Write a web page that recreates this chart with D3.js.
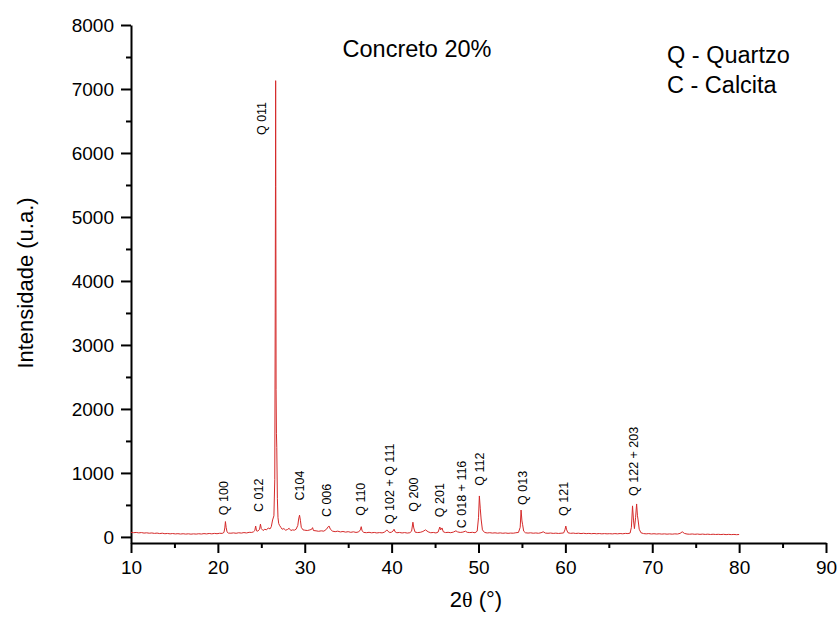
<!DOCTYPE html>
<html>
<head>
<meta charset="utf-8">
<script src="https://cdn.jsdelivr.net/npm/d3@7"></script>
<style>
  body { margin: 0; background: #fff; }
  text { font-family: "Liberation Sans", Arial, sans-serif; fill: #000; }
</style>
</head>
<body>
<svg id="xrd-chart" width="839" height="621"></svg>
<script>
// 2-theta (deg) / intensity (a.u.)
const pattern = [
  [10.0,72],[10.3,66],[10.6,70],[10.9,63],[11.2,68],[11.5,60],[11.8,64],[12.1,58],[12.4,62],[12.7,55],
  [13.0,60],[13.3,52],[13.6,58],[13.9,50],[14.2,54],[14.5,48],[14.8,53],[15.1,47],[15.4,51],[15.7,45],
  [16.0,50],[16.3,44],[16.6,49],[16.9,43],[17.2,48],[17.5,44],[17.8,50],[18.1,45],[18.4,52],[18.7,47],
  [19.0,54],[19.3,48],[19.6,55],[19.9,50],[20.2,57],[20.5,55],[20.7,70],[20.8,140],[20.87,240],[20.95,150],
  [21.05,80],[21.2,60],[21.5,58],[21.8,63],[22.1,57],[22.4,65],[22.7,60],[23.0,68],[23.3,62],[23.6,72],
  [23.9,70],[24.1,80],[24.25,100],[24.35,170],[24.45,95],[24.6,90],[24.8,120],[24.9,200],[25.0,130],[25.2,100],
  [25.4,120],[25.6,110],[25.8,140],[26.0,125],[26.15,160],[26.3,265],[26.45,330],[26.55,900],[26.6,3500],[26.63,5480],
  [26.65,7130],[26.67,5480],[26.7,2300],[26.74,1620],[26.78,1400],[26.85,600],[26.92,300],[27.0,210],[27.1,180],[27.25,150],
  [27.4,120],[27.6,130],[27.8,105],[28.0,115],[28.2,135],[28.4,100],[28.6,110],[28.8,105],[29.0,120],[29.2,180],
  [29.3,280],[29.4,340],[29.5,260],[29.6,150],[29.8,110],[30.0,105],[30.3,100],[30.6,110],[30.8,120],[30.9,145],
  [31.0,100],[31.3,95],[31.6,88],[31.9,95],[32.2,90],[32.5,120],[32.7,160],[32.8,170],[32.95,120],[33.2,90],
  [33.5,82],[33.8,90],[34.1,78],[34.4,85],[34.7,75],[35.0,82],[35.3,72],[35.6,80],[35.9,70],[36.2,78],
  [36.4,110],[36.5,160],[36.6,95],[36.8,70],[37.1,66],[37.4,72],[37.7,64],[38.0,70],[38.3,62],[38.6,68],
  [38.9,63],[39.2,75],[39.45,110],[39.6,85],[39.8,68],[40.0,75],[40.15,90],[40.28,120],[40.4,80],[40.6,65],
  [40.9,70],[41.2,62],[41.5,68],[41.8,60],[42.1,66],[42.3,90],[42.45,230],[42.55,140],[42.7,75],[43.0,68],
  [43.3,72],[43.6,85],[43.9,110],[44.2,80],[44.5,65],[44.8,70],[45.1,62],[45.35,75],[45.55,155],[45.65,110],
  [45.8,140],[45.95,80],[46.2,68],[46.5,72],[46.8,66],[47.1,75],[47.4,95],[47.6,78],[47.9,70],[48.2,75],
  [48.5,90],[48.7,72],[49.0,68],[49.3,72],[49.6,65],[49.85,90],[50.0,300],[50.1,640],[50.2,450],[50.3,280],
  [50.45,110],[50.7,70],[51.0,62],[51.3,66],[51.6,60],[51.9,64],[52.2,58],[52.5,63],[52.8,57],[53.1,62],
  [53.4,56],[53.7,60],[54.0,58],[54.3,65],[54.6,70],[54.8,150],[54.9,420],[55.0,250],[55.08,190],[55.2,90],
  [55.4,65],[55.7,60],[56.0,64],[56.3,58],[56.6,62],[56.9,57],[57.2,65],[57.45,80],[57.7,60],[58.0,57],
  [58.3,61],[58.6,55],[58.9,59],[59.2,54],[59.5,58],[59.8,62],[59.95,110],[60.05,170],[60.15,110],[60.3,65],
  [60.6,56],[60.9,60],[61.2,54],[61.5,58],[61.8,52],[62.1,57],[62.4,51],[62.7,55],[63.0,50],[63.3,54],
  [63.6,49],[63.9,53],[64.2,48],[64.5,52],[64.8,48],[65.1,51],[65.4,47],[65.7,52],[66.0,48],[66.3,53],
  [66.6,49],[66.9,55],[67.2,52],[67.45,60],[67.6,150],[67.73,485],[67.85,250],[67.95,130],[68.08,300],[68.2,515],
  [68.3,330],[68.37,265],[68.5,120],[68.7,65],[69.0,52],[69.3,48],[69.6,52],[69.9,46],[70.2,50],[70.5,45],
  [70.8,49],[71.1,44],[71.4,48],[71.7,43],[72.0,47],[72.3,43],[72.6,48],[72.9,45],[73.2,55],[73.45,80],
  [73.7,55],[74.0,45],[74.3,42],[74.6,46],[74.9,41],[75.2,45],[75.5,40],[75.8,44],[76.1,39],[76.4,43],
  [76.7,38],[77.0,42],[77.3,38],[77.6,41],[77.9,37],[78.2,41],[78.5,36],[78.8,40],[79.1,36],[79.4,39],
  [79.7,35],[80.0,38]
];

// peak labels: text, 2-theta where it sits, intensity where the text starts
const peakNames = ['Q 100', 'C 012', 'Q 011', 'C104', 'C 006', 'Q 110', 'Q 102 + Q 111',
  'Q 200', 'Q 201', 'C 018 + 116', 'Q 112', 'Q 013', 'Q 121', 'Q 122 + 203'];
const peakPos = [20.7, 24.65, 25.08, 29.45, 32.53, 36.44, 39.81, 42.49, 45.57, 48.07, 50.17, 55.09, 59.76, 67.82];
const peakLabelY = [340, 390, 6280, 570, 310, 330, 200, 395, 308, 136, 800, 500, 328, 640];

const xTicks = [10, 20, 30, 40, 50, 60, 70, 80, 90];
const yTicks = [0, 1000, 2000, 3000, 4000, 5000, 6000, 7000, 8000];
const legendLines = ['Q - Quartzo', 'C - Calcita'];
const chartTitle = 'Concreto 20%';

const svg = d3.select('#xrd-chart');

const xScale = d3.scaleLinear().domain([10, 90]).range([131, 826]);
const yScale = d3.scaleLinear().domain([-95, 8000]).range([543, 25]);

// minor ticks halfway between the major ones
const xMinor = d3.range(15, 90, 10);
const yMinor = d3.range(500, 8000, 1000);

function styleAxis(g) {
    g.select('.domain').attr('stroke', '#000').attr('stroke-width', 2);
    g.selectAll('.tick line').attr('stroke', '#000').attr('stroke-width', 2);
    g.selectAll('.tick text').style('font-size', '19px').attr('fill', '#000');
}

// x axis
svg.append('g')
    .attr('transform', `translate(0, ${yScale(-95)})`)
    .call(d3.axisBottom(xScale).tickValues(xMinor).tickSize(5).tickFormat('').tickSizeOuter(0))
    .call(g => g.select('.domain').remove())
    .call(styleAxis);

svg.append('g')
    .attr('transform', `translate(0, ${yScale(-95)})`)
    .call(d3.axisBottom(xScale).tickValues(xTicks).tickSize(10).tickPadding(8)
        .tickFormat(d3.format('d')).tickSizeOuter(0))
    .call(styleAxis);

// y axis
svg.append('g')
    .attr('transform', `translate(${xScale(10)}, 0)`)
    .call(d3.axisLeft(yScale).tickValues(yMinor).tickSize(5).tickFormat('').tickSizeOuter(0))
    .call(g => g.select('.domain').remove())
    .call(styleAxis);

svg.append('g')
    .attr('transform', `translate(${xScale(10)}, 0)`)
    .call(d3.axisLeft(yScale).tickValues(yTicks).tickSize(10).tickPadding(7)
        .tickFormat(d3.format('d')).tickSizeOuter(0))
    .call(styleAxis);

// axis titles
svg.append('text')
    .attr('text-anchor', 'middle')
    .attr('transform', `translate(33, 283) rotate(-90)`)
    .style('font-size', '22px')
    .text('Intensidade (u.a.)');

const xLabel = svg.append('text')
    .attr('text-anchor', 'middle')
    .attr('x', 476)
    .attr('y', 607)
    .style('font-size', '22px');
xLabel.append('tspan').text('2');
xLabel.append('tspan').style('font-family', '"Liberation Serif", serif').text('\u03b8');
xLabel.append('tspan').text(' (\u00b0)');

// diffractogram
const line = d3.line()
    .x(d => xScale(d[0]))
    .y(d => yScale(d[1]));

svg.append('path')
    .attr('d', line(pattern))
    .attr('fill', 'none')
    .attr('stroke', '#d52a2a')
    .attr('stroke-width', 1)
    .attr('stroke-linejoin', 'round');

// peak labels, rotated
svg.append('g')
    .selectAll('text')
    .data(peakNames)
    .join('text')
    .attr('transform', (d, i) => `translate(${xScale(peakPos[i])}, ${yScale(peakLabelY[i])}) rotate(-90)`)
    .attr('dy', '0.35em')
    .style('font-size', '12.5px')
    .text(d => d);

// title and legend text
svg.append('text')
    .attr('x', 417)
    .attr('y', 57)
    .attr('text-anchor', 'middle')
    .style('font-size', '23.5px')
    .text(chartTitle);

svg.append('g')
    .selectAll('text')
    .data(legendLines)
    .join('text')
    .attr('x', 667)
    .attr('y', (d, i) => 63 + i * 30)
    .style('font-size', '23.5px')
    .text(d => d);
</script>
</body>
</html>
